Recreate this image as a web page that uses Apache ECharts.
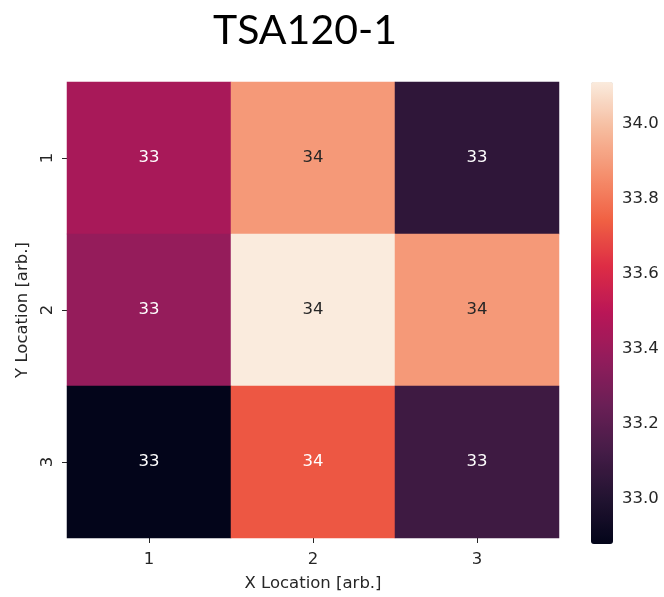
<!DOCTYPE html>
<html>
<head>
<meta charset="utf-8">
<script src="https://cdn.jsdelivr.net/npm/echarts@6/dist/echarts.min.js"></script>
<style>html,body{margin:0;padding:0;background:#fff}#c{width:664px;height:597px}</style>
</head>
<body>
<div id="c"></div>
<script>
const titleText = 'TSA120-1';
const xCategories = ['1', '2', '3'];
const yCategories = ['1', '2', '3'];
const row1 = [33.44, 33.89, 33.05];
const row2 = [33.38, 34.11, 33.89];
const row3 = [32.88, 33.72, 33.10];
const colorbarTicks = [33.0, 33.2, 33.4, 33.6, 33.8, 34.0];
const vMin = 32.88, vMax = 34.11;
const rocket = ['#03051A','#221331','#451C47','#6A1F56','#921C5B','#B91657','#DD2C45','#F06043','#F5906E','#F6BC9F','#FAEBDD'];

const rows = [row1, row2, row3];
const data = [];
rows.forEach((r, yi) => r.forEach((v, xi) => {
  data.push({ value: [xi, yi, v], label: { color: v > 33.8 ? '#262626' : '#ffffff' } });
}));

const font = 'DejaVu Sans';
const fs = 16.5;
const chart = echarts.init(document.getElementById('c'), null, { renderer: 'canvas' });
chart.setOption({
  animation: false,
  backgroundColor: '#ffffff',
  title: {
    text: titleText, left: 300, top: 5, textAlign: 'center',
    textStyle: { fontFamily: 'Lato', fontSize: 41, fontWeight: 'normal', color: '#000' }
  },
  grid: [
    { left: 67, top: 82, width: 492, height: 462 },
    { left: 591, top: 82, width: 22, height: 462 }
  ],
  xAxis: [
    { type: 'category', data: xCategories, gridIndex: 0,
      name: 'X Location [arb.]', nameLocation: 'middle', nameGap: 37,
      nameTextStyle: { fontFamily: font, fontSize: fs, color: '#262626' },
      axisLine: { show: false },
      axisTick: { show: true, alignWithLabel: true, length: 5, lineStyle: { color: '#262626' } },
      axisLabel: { fontFamily: font, fontSize: fs, color: '#262626', margin: 13 },
      splitLine: { show: false } },
    { type: 'value', gridIndex: 1, show: false, min: 0, max: 1 }
  ],
  yAxis: [
    { type: 'category', data: yCategories, gridIndex: 0, inverse: true,
      name: 'Y Location [arb.]', nameLocation: 'middle', nameGap: 30,
      nameTextStyle: { fontFamily: font, fontSize: fs, color: '#262626' },
      axisLine: { show: false },
      axisTick: { show: true, alignWithLabel: true, length: 5, lineStyle: { color: '#262626' } },
      axisLabel: { fontFamily: font, fontSize: fs, color: '#262626', rotate: 90, margin: 11 },
      splitLine: { show: false } },
    { type: 'value', gridIndex: 1, position: 'right', min: vMin, max: vMax,
      axisLine: { show: false },
      axisTick: { show: true, length: 5, customValues: colorbarTicks, lineStyle: { color: '#262626' } },
      axisLabel: { fontFamily: font, fontSize: fs, color: '#262626', margin: 9,
        customValues: colorbarTicks, formatter: v => Number(v).toFixed(1) },
      splitLine: { show: false } }
  ],
  visualMap: {
    type: 'continuous', min: vMin, max: vMax, calculable: false, realtime: false,
    seriesIndex: 0, orient: 'vertical', left: 591, top: 82, padding: 0,
    itemWidth: 22, itemHeight: 462, text: null, showLabel: false,
    inRange: { color: rocket }, hoverLink: false
  },
  series: [
    { type: 'heatmap', xAxisIndex: 0, yAxisIndex: 0, data: data,
      label: { show: true, fontFamily: font, fontSize: fs, formatter: p => String(Math.round(p.value[2])) },
      itemStyle: { borderWidth: 0 }, emphasis: { disabled: true } },
    { type: 'line', xAxisIndex: 1, yAxisIndex: 1, data: [], silent: true }
  ]
});
</script>
</body>
</html>
